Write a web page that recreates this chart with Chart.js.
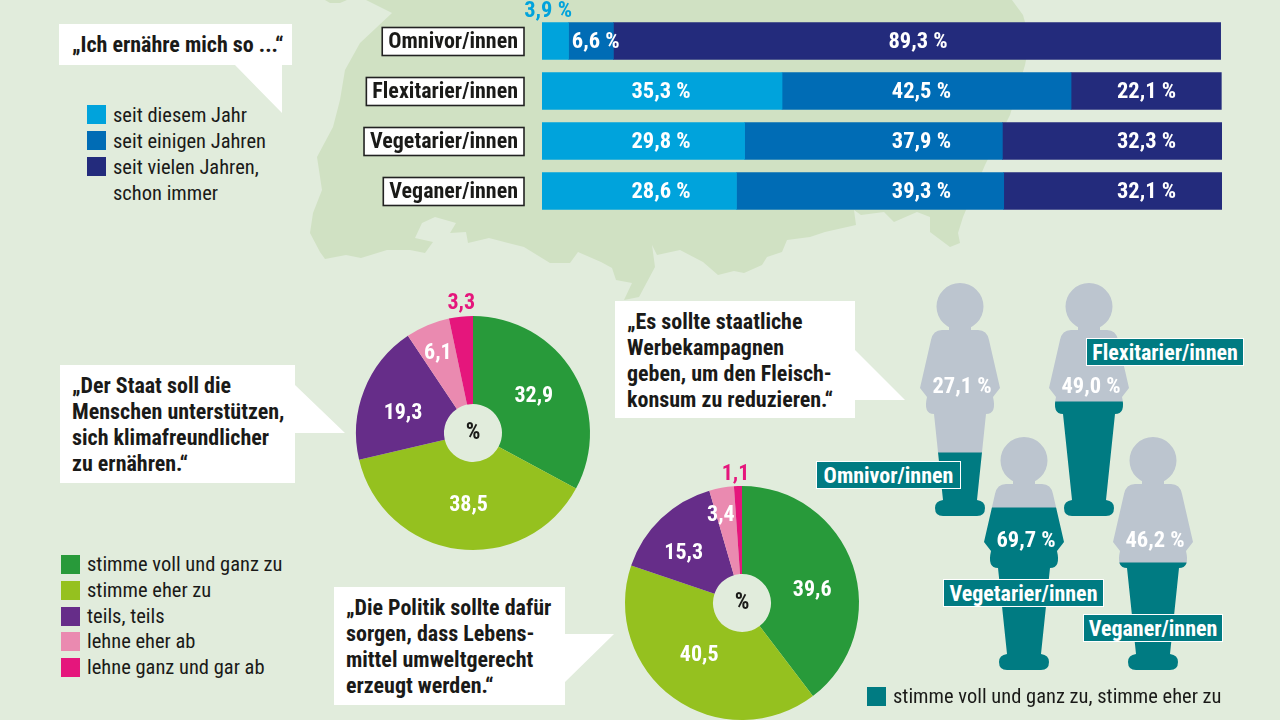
<!DOCTYPE html>
<html lang="de"><head><meta charset="utf-8">
<script src="https://cdn.jsdelivr.net/npm/chart.js@4"></script>
<style>
html,body{margin:0;padding:0;width:1280px;height:720px;overflow:hidden;background:#e1ecdc}
#stage{position:relative;width:1280px;height:720px;overflow:hidden;font-family:"Roboto Condensed","Liberation Sans",sans-serif;color:#1a1a18}
#stage>*{position:absolute}
svg{left:0;top:0}
.quote{font-weight:700;font-size:22px;line-height:26px;white-space:pre;color:#1a1a18}
.leg{font-size:20.5px;line-height:26px;white-space:pre}
.sw{width:19px;height:19px}
.tag{background:#007b82;color:#fff;border:1px solid #fff;box-sizing:border-box;font-weight:700;font-size:22px;line-height:28px;text-align:center;white-space:pre}
canvas{display:block}
</style></head><body>
<div id="stage">
<svg width="1280" height="720">
<path fill="#d0e1c3" d="M366 0L392 13L360 43L345 70L340 100L333 127L317 157L322 190L313 213L310 233L320 252L325 259L346 255L361 258L387 250L410 250L425 253L433 242L415 238L422 223L435 217L456 223L450 233L466 232L468 243L489 238L524 247L550 263L570 263L578 252L601 262L612 268L616 280L632 283L624 300L639 297L655 267L652 245L657 255L680 250L703 262L718 275L734 271L744 273L762 265L767 257L782 252L787 240L810 237L825 232L856 225L854 210L861 215L884 212L894 222L917 212L930 217L930 232L950 247L960 243L958 233L963 217L985 165L1010 115L1025 65L1030 40L1023 15L1012 0Z"/>
<path fill="#d0e1c3" d="M325 0L347 0L340 3L330 3Z"/>
<g fill="#fff">
<path d="M59 24H292V65H282V113L235 65H59Z"/>
<path d="M60 365H295V385L345 433H295V483H60Z"/>
<path d="M615 301H855V350L905 400H855V418H615Z"/>
<path d="M334 587H565V634H614L565 682V705H334Z"/>
</g>
</svg>

<canvas id="bars" width="862" height="216" style="left:360px;top:0"></canvas>
<canvas id="pieA" width="300" height="300" style="left:323px;top:283px"></canvas>
<canvas id="pieB" width="300" height="300" style="left:591.5px;top:453px"></canvas>
<canvas id="p0" width="90" height="233" style="left:915px;top:283px"></canvas>
<canvas id="p1" width="90" height="233" style="left:1044px;top:283px"></canvas>
<canvas id="p2" width="90" height="234" style="left:978.5px;top:437px"></canvas>
<canvas id="p3" width="90" height="234" style="left:1108px;top:437px"></canvas>

<div class="quote" style="left:72px;top:32px">„Ich ernähre mich so ...“</div>
<div class="quote" style="left:72px;top:373px">„Der Staat soll die
Menschen unterstützen,
sich klimafreundlicher
zu ernähren.“</div>
<div class="quote" style="left:627px;top:309px">„Es sollte staatliche
Werbekampagnen
geben, um den Fleisch-
konsum zu reduzieren.“</div>
<div class="quote" style="left:346px;top:595px">„Die Politik sollte dafür
sorgen, dass Lebens-
mittel umweltgerecht
erzeugt werden.“</div>

<div id="tags"></div>
<div id="legA"></div>
<div id="legB"></div>
<div class="sw" style="left:867px;top:687px;background:#007b82"></div>
<div class="leg" id="legC" style="left:893px;top:683px"></div>
</div>
<script>
const categories = ["Omnivor/innen","Flexitarier/innen","Vegetarier/innen","Veganer/innen"];
const durationLabels = ["seit diesem Jahr","seit einigen Jahren","seit vielen Jahren,\nschon immer"];
const thisYear  = [3.9,35.3,29.8,28.6];
const someYears = [6.6,42.5,37.9,39.3];
const manyYears = [89.3,22.1,32.3,32.1];
const opinionLabels = ["stimme voll und ganz zu","stimme eher zu","teils, teils","lehne eher ab","lehne ganz und gar ab"];
const stateSupport = [32.9,38.5,19.3,6.1,3.3];
const foodPolicy = [39.6,40.5,15.3,3.4,1.1];
const campaignAgree = [27.1,49.0,69.7,46.2];
const campaignLegend = "stimme voll und ganz zu, stimme eher zu";

const FONT = '"Roboto Condensed","Liberation Sans",sans-serif';
const fmt = (v,d=1) => v.toFixed(d).replace('.',',');
const durColors = ['#00a3dc','#006cb5','#232b7c'];
const opColors = ['#289a3a','#95c11f','#662d89','#ea8ab0','#e5167c'];
const TEAL='#007b82', GREY='#bcc5cf';
Chart.defaults.animation=false;
Chart.defaults.responsive=false;
Chart.defaults.plugins.legend.display=false;
Chart.defaults.plugins.tooltip.enabled=false;

/* ---------- stacked bars ---------- */
const barLabelCols=[17.5,55.8,88.9];
const omniCols=[0.9,7.9,55.3];
new Chart(document.getElementById('bars'),{
  type:'bar',
  data:{labels:categories,datasets:[thisYear,someYears,manyYears].map((d,i)=>({data:d,backgroundColor:durColors[i],barThickness:37,borderWidth:0}))},
  options:{indexAxis:'y',layout:{padding:{top:16,left:0,right:0,bottom:0}},
    scales:{
      x:{stacked:true,min:0,max:100,display:false},
      y:{stacked:true,grid:{display:false,drawTicks:false},border:{display:false},
         afterFit(s){s.width=182;s.paddingTop=0;s.paddingBottom=0;},
         ticks:{padding:24,labelOffset:1.5,color:'#1a1a18',font:{family:FONT,size:22,weight:'700'},autoSkip:false}}
    }},
  plugins:[{id:'barDeco',
    beforeDraw(c){
      const y=c.scales.y,ctx=c.ctx;ctx.save();
      ctx.font='700 22px '+FONT;
      categories.forEach((t,i)=>{
        const w=ctx.measureText(t).width,cy=y.getPixelForTick(i);
        ctx.fillStyle='#fff';ctx.strokeStyle='#222';ctx.lineWidth=1.6;
        const l=518-360-w-6;
        ctx.fillRect(l,cy-13.5,w+12,28);ctx.strokeRect(l,cy-13.5,w+12,28);
      });
      ctx.restore();
    },
    afterDatasetsDraw(c){
      const x=c.scales.x,ctx=c.ctx;ctx.save();
      ctx.font='700 22.5px '+FONT;ctx.textAlign='center';ctx.textBaseline='middle';
      c.data.datasets.forEach((ds,di)=>{
        c.getDatasetMeta(di).data.forEach((el,i)=>{
          const v=ds.data[i];
          let px=x.getPixelForValue(i===0?omniCols[di]:barLabelCols[di]),py=el.y+1;
          if(i===0&&di===0){ctx.fillStyle='#00a3dc';py=11.5;px=x.getPixelForValue(0.9);}
          else ctx.fillStyle='#fff';
          ctx.fillText(fmt(v)+' %',px,py);
        });
      });
      ctx.restore();
    }}]
});

/* ---------- pies ---------- */
function pie(id,data,dist,nudge){
  new Chart(document.getElementById(id),{
    type:'doughnut',
    data:{labels:opinionLabels,datasets:[{data,backgroundColor:opColors,borderWidth:0,radius:117,cutout:'24.8%'}]},
    options:{layout:{padding:0}},
    plugins:[{id:'pieDeco',afterDatasetsDraw(c){
      const ctx=c.ctx;ctx.save();ctx.textAlign='center';ctx.textBaseline='middle';
      c.getDatasetMeta(0).data.forEach((a,i)=>{
        const m=(a.startAngle+a.endAngle)/2;
        ctx.font='700 22px '+FONT;
        ctx.fillStyle=i===4?opColors[4]:'#fff';
        ctx.fillText(fmt(data[i]),a.x+Math.cos(m)*dist[i]+nudge[i][0],a.y+Math.sin(m)*dist[i]+nudge[i][1]);
      });
      const a0=c.getDatasetMeta(0).data[0];
      ctx.fillStyle='#1a1a18';ctx.font='700 23px '+FONT;ctx.fillText('%',a0.x,a0.y);
      ctx.restore();
    }}]
  });
}
pie('pieA',stateSupport,[72,72,72,88,133],[[-1,0],[5,1],[-3,7],[-1,2],[2,3]]);
pie('pieB',foodPolicy,[72,70,77,92,132],[[2,11],[-2,-4],[-5,6],[-5,3],[-2,3]]);

/* ---------- people ---------- */
function personPath(ctx,cx,top){
  const P=(x,y)=>[cx+x,top+y];
  ctx.beginPath();
  ctx.arc(cx,top+23.5,23.5,0,Math.PI*2,true);
  ctx.closePath();
  ctx.moveTo(...P(0,40));
  ctx.lineTo(...P(-11,40));ctx.lineTo(...P(-11,47));ctx.lineTo(...P(-18,47));
  ctx.quadraticCurveTo(...P(-27,47),...P(-29,57));
  ctx.lineTo(...P(-40,105));
  ctx.lineTo(...P(-33,114));
  ctx.quadraticCurveTo(...P(-37,131),...P(-26,131));
  ctx.lineTo(...P(-17,217));
  ctx.quadraticCurveTo(...P(-25,218),...P(-25,225));
  ctx.quadraticCurveTo(...P(-25,233),...P(-17,233));
  ctx.lineTo(...P(17,233));
  ctx.quadraticCurveTo(...P(25,233),...P(25,225));
  ctx.quadraticCurveTo(...P(25,218),...P(17,217));
  ctx.lineTo(...P(26,131));
  ctx.quadraticCurveTo(...P(37,131),...P(33,114));
  ctx.lineTo(...P(40,105));
  ctx.lineTo(...P(29,57));
  ctx.quadraticCurveTo(...P(27,47),...P(18,47));
  ctx.lineTo(...P(11,47));ctx.lineTo(...P(11,40));
  ctx.closePath();
}
categories.forEach((n,i)=>{
  new Chart(document.getElementById('p'+i),{
    type:'bar',
    data:{labels:[n],datasets:[
      {data:[campaignAgree[i]],backgroundColor:TEAL,borderWidth:0,barPercentage:1,categoryPercentage:1},
      {data:[100-campaignAgree[i]],backgroundColor:GREY,borderWidth:0,barPercentage:1,categoryPercentage:1}]},
    options:{layout:{padding:0},scales:{x:{stacked:true,display:false},y:{stacked:true,display:false,min:0,max:100}}},
    plugins:[{id:'person',
      beforeDatasetsDraw(c){const ctx=c.ctx;ctx.save();personPath(ctx,(c.chartArea.left+c.chartArea.right)/2,c.chartArea.top);ctx.clip();},
      afterDatasetsDraw(c){const ctx=c.ctx;ctx.restore();ctx.save();
        ctx.fillStyle='#fff';ctx.font='700 22.5px '+FONT;ctx.textAlign='center';ctx.textBaseline='middle';
        ctx.fillText(fmt(campaignAgree[i])+' %',47,i>1?104.5:104);ctx.restore();}
    }]
  });
});

/* ---------- HTML labels ---------- */
const tagBoxes=[[816,461,145,28],[1086,338,158,28],[943,579,161,28],[1083,614,140,28]];
document.getElementById('tags').innerHTML=categories.map((t,i)=>{const b=tagBoxes[i];
  return `<div class="tag" style="position:absolute;left:${b[0]}px;top:${b[1]}px;width:${b[2]}px;height:${b[3]}px">${t}</div>`}).join('');
document.getElementById('legA').innerHTML=durationLabels.map((t,i)=>{const y=105+i*26;
  return `<div class="sw" style="position:absolute;left:87px;top:${y}px;background:${durColors[i]}"></div><div class="leg" style="position:absolute;left:113px;top:${y-3}px">${t}</div>`}).join('');
document.getElementById('legB').innerHTML=opinionLabels.map((t,i)=>{const y=555+i*25.8;
  return `<div class="sw" style="position:absolute;left:61px;top:${y}px;background:${opColors[i]}"></div><div class="leg" style="position:absolute;left:87px;top:${y-4}px">${t}</div>`}).join('');
document.getElementById('legC').textContent=campaignLegend;
</script>
</body></html>
